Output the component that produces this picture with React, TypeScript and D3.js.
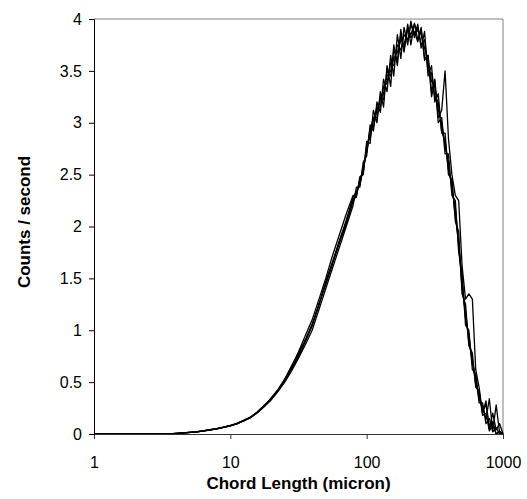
import React, { useEffect, useRef } from 'react';
import * as d3 from 'd3';

// chord length channels (micron), log spaced
const chordLengths = [
  1, 1.12, 1.26, 1.41, 1.58, 1.78, 2.0, 2.24, 2.51, 2.82, 3.16, 3.55, 3.98, 4.47, 5.01, 5.62, 6.31, 7.08, 7.94, 8.91,
  10, 11.2, 12.6, 14.1, 15.8, 17.8, 20.0, 22.4, 25.1, 28.2, 31.6, 35.5, 39.8, 44.7, 50.1, 56.2, 63.1, 70.8,
  79.4, 84.1, 89.1, 94.4, 100, 106, 112, 119, 126, 133, 141, 150, 158, 168, 178, 188, 200, 211, 224, 237, 251, 266,
  282, 299, 316, 335, 355, 376, 398, 422, 447, 473, 501, 531, 562, 596, 631, 668, 708, 750, 794, 841, 891, 944, 1000
];

const zeros = [0, 0, 0, 0, 0, 0, 0, 0, 0, 0, 0, 0];

const runA = [...zeros,
  0.004, 0.01, 0.016, 0.022, 0.03, 0.042, 0.052, 0.066, 0.082, 0.1, 0.128, 0.165, 0.21, 0.27, 0.35, 0.43, 0.53, 0.65, 0.79, 0.95, 1.1, 1.3, 1.5, 1.72, 1.92, 2.12,
  2.3, 2.28, 2.48, 2.5, 2.82, 2.8, 3.12, 3.0, 3.3, 3.15, 3.55, 3.35, 3.75, 3.55, 3.9, 3.7, 3.95, 3.75, 3.96, 3.8, 3.9, 3.6, 3.65, 3.25, 3.4, 3.0, 3.05, 2.7, 2.7, 2.3, 2.25, 1.75, 1.55, 1.05, 1.0, 0.62, 0.58, 0.3, 0.3, 0.1, 0.15, 0.02, 0.06, 0, 0
];
const runB = [...zeros,
  0.006, 0.011, 0.014, 0.02, 0.028, 0.038, 0.05, 0.063, 0.078, 0.098, 0.13, 0.158, 0.205, 0.265, 0.33, 0.41, 0.5, 0.61, 0.73, 0.86, 1.0, 1.2, 1.4, 1.6, 1.8, 2.0,
  2.2, 2.38, 2.38, 2.62, 2.68, 2.98, 2.92, 3.2, 3.1, 3.42, 3.3, 3.65, 3.45, 3.85, 3.62, 3.92, 3.75, 3.98, 3.82, 3.95, 3.72, 3.88, 3.45, 3.55, 3.2, 3.28, 2.9, 2.9, 2.5, 2.45, 2.05, 1.95, 1.35, 1.25, 0.85, 0.78, 0.45, 0.42, 0.18, 0.2, 0.03, 0.09, 0, 0.03, 0
];
const runC = [...zeros,
  0.005, 0.009, 0.015, 0.021, 0.031, 0.041, 0.049, 0.066, 0.08, 0.104, 0.133, 0.162, 0.215, 0.28, 0.34, 0.42, 0.53, 0.66, 0.78, 0.9, 1.06, 1.24, 1.47, 1.66, 1.86, 2.06,
  2.28, 2.34, 2.4, 2.56, 2.72, 2.92, 3.05, 3.05, 3.25, 3.22, 3.5, 3.45, 3.7, 3.6, 3.85, 3.68, 3.92, 3.82, 3.88, 3.78, 3.92, 3.62, 3.65, 3.3, 3.42, 3.05, 3.12, 3.5, 2.85, 2.5, 2.3, 2.25, 1.62, 1.3, 1.35, 1.3, 0.62, 0.45, 0.2, 0.32, 0.05, 0.12, 0, 0.02, 0
];
const runD = [...zeros,
  0.005, 0.01, 0.015, 0.019, 0.03, 0.039, 0.051, 0.064, 0.081, 0.1, 0.127, 0.16, 0.208, 0.27, 0.345, 0.425, 0.52, 0.63, 0.74, 0.89, 1.04, 1.26, 1.44, 1.64, 1.84, 2.02,
  2.24, 2.3, 2.45, 2.52, 2.78, 2.86, 3.02, 3.15, 3.15, 3.35, 3.38, 3.58, 3.55, 3.75, 3.7, 3.85, 3.8, 3.95, 3.85, 3.92, 3.75, 3.8, 3.5, 3.48, 3.25, 3.2, 2.92, 2.82, 2.55, 2.42, 2.1, 1.85, 1.4, 1.18, 0.88, 0.72, 0.48, 0.38, 0.22, 0.28, 0.06, 0.2, 0.04, 0.1, 0
];
const runE = [...zeros,
  0.004, 0.01, 0.016, 0.021, 0.029, 0.04, 0.05, 0.065, 0.079, 0.099, 0.131, 0.161, 0.212, 0.275, 0.34, 0.415, 0.525, 0.625, 0.76, 0.91, 1.05, 1.25, 1.45, 1.65, 1.86, 2.04,
  2.26, 2.32, 2.42, 2.58, 2.72, 2.94, 2.96, 3.12, 3.22, 3.28, 3.45, 3.5, 3.62, 3.68, 3.8, 3.75, 3.9, 3.85, 3.95, 3.88, 3.85, 3.72, 3.58, 3.4, 3.35, 3.12, 3.0, 2.78, 2.62, 2.35, 2.18, 1.82, 1.48, 1.12, 0.95, 0.68, 0.55, 0.33, 0.27, 0.14, 0.34, 0.03, 0.28, 0.01, 0
];

const runs = [runA, runB, runC, runD, runE];
const xTicks = [1, 10, 100, 1000];
const yTicks = [0, 0.5, 1, 1.5, 2, 2.5, 3, 3.5, 4];

const App = () => {
  const chartRef = useRef<SVGSVGElement>(null);

  useEffect(() => {
    const width = 527;
    const height = 499;
    const marginTop = 19;
    const marginRight = 24;
    const marginBottom = 65;
    const marginLeft = 94;
    const font = 'Arial, "Liberation Sans", sans-serif';

    const svg = d3.select(chartRef.current);
    svg.selectAll('*').remove();
    svg.attr('width', width).attr('height', height);

    const x = d3.scaleLog()
      .domain([1, 1000])
      .range([marginLeft, width - marginRight]);

    const y = d3.scaleLinear()
      .domain([0, 4])
      .range([height - marginBottom, marginTop]);

    // frame: grey top / right
    svg.append('path')
      .attr('d', `M${marginLeft},${marginTop}H${width - marginRight}V${height - marginBottom}`)
      .attr('fill', 'none')
      .attr('stroke', '#808080')
      .attr('stroke-width', 1);

    // data lines
    const line = d3.line<number>()
      .x((d, i) => x(chordLengths[i]))
      .y(d => y(d));

    svg.append('g')
      .selectAll('path')
      .data(runs)
      .join('path')
        .attr('d', d => line(d))
        .attr('fill', 'none')
        .attr('stroke', '#000')
        .attr('stroke-width', 1.3)
        .attr('stroke-linejoin', 'round');

    // x axis
    const xAxis = svg.append('g')
      .attr('transform', `translate(0,${height - marginBottom})`)
      .call(d3.axisBottom(x).tickValues(xTicks).tickFormat(d3.format('d')).tickSize(5).tickPadding(18));
    xAxis.select('.domain').attr('stroke', '#333');
    xAxis.selectAll('.tick line').attr('stroke', '#333');
    xAxis.selectAll('text')
      .attr('font-family', font)
      .attr('font-size', 16)
      .attr('fill', '#000');

    // y axis
    const yAxis = svg.append('g')
      .attr('transform', `translate(${marginLeft},0)`)
      .call(d3.axisLeft(y).tickValues(yTicks).tickFormat(d => String(d)).tickSize(5).tickPadding(7));
    yAxis.select('.domain').attr('stroke', '#000');
    yAxis.selectAll('text')
      .attr('font-family', font)
      .attr('font-size', 16)
      .attr('fill', '#000');

    // axis titles
    svg.append('text')
      .attr('x', (marginLeft + width - marginRight) / 2)
      .attr('y', 489)
      .attr('text-anchor', 'middle')
      .attr('font-family', font)
      .attr('font-weight', 'bold')
      .attr('font-size', 17)
      .text('Chord Length (micron)');

    svg.append('text')
      .attr('transform', `translate(30,222) rotate(-90)`)
      .attr('text-anchor', 'middle')
      .attr('font-family', font)
      .attr('font-weight', 'bold')
      .attr('font-size', 17)
      .text('Counts / second');
  }, []);

  return (
    <div>
      <svg ref={chartRef} style={{ position: 'absolute', left: 0, top: 0 }}></svg>
    </div>
  );
};

export default App;
